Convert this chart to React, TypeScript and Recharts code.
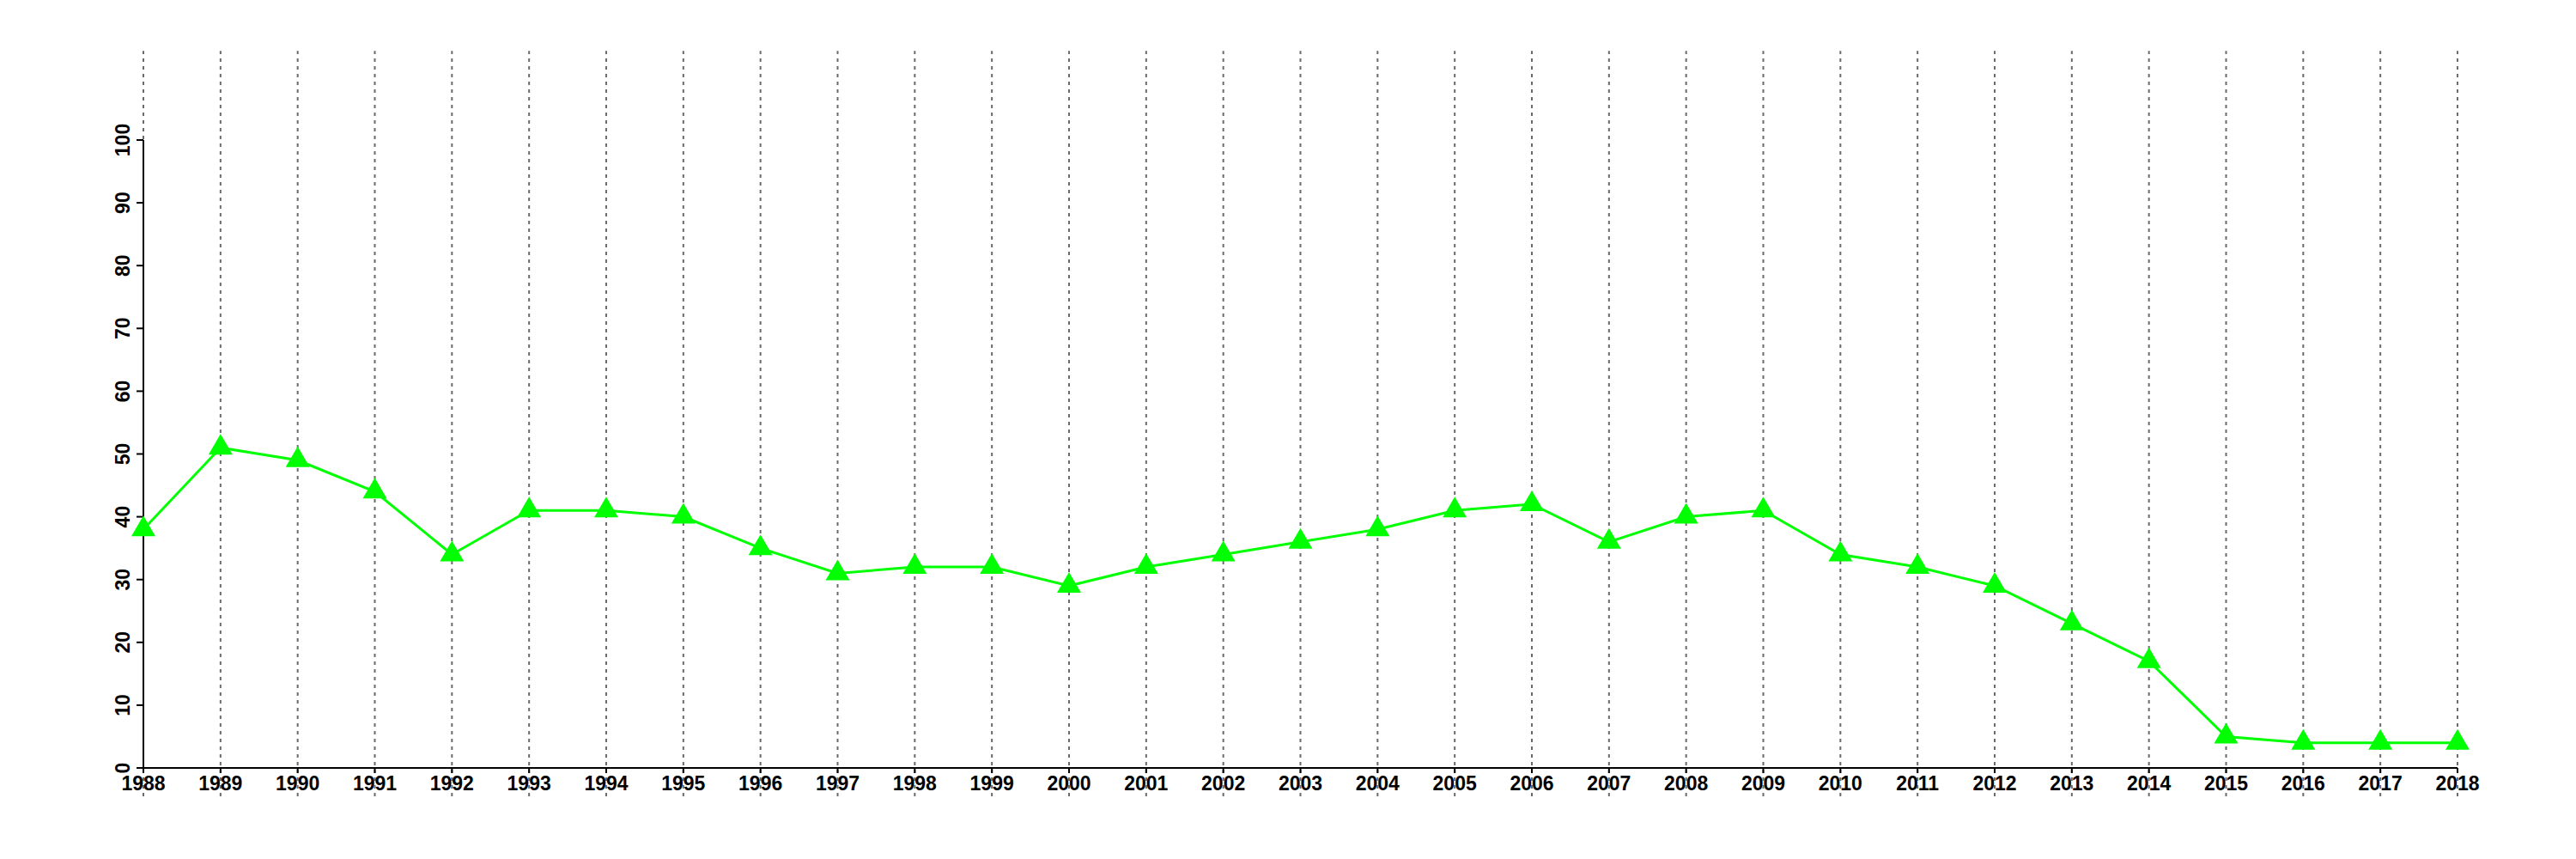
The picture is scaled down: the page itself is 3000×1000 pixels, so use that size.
import React from 'react';
import { LineChart, Line, XAxis, YAxis, ReferenceLine } from 'recharts';

const years = [
  1988, 1989, 1990, 1991, 1992, 1993, 1994, 1995, 1996, 1997, 1998, 1999, 2000, 2001, 2002, 2003,
  2004, 2005, 2006, 2007, 2008, 2009, 2010, 2011, 2012, 2013, 2014, 2015, 2016, 2017, 2018,
];
const values = [
  38, 51, 49, 44, 34, 41, 41, 40, 35, 31, 32, 32, 29, 32, 34, 36,
  38, 41, 42, 36, 40, 41, 34, 32, 29, 23, 17, 5, 4, 4, 4,
];
const yTicks = [0, 10, 20, 30, 40, 50, 60, 70, 80, 90, 100];

const data = years.map((year, i) => ({ year, value: values[i] }));

const FONT = '"Liberation Sans", Arial, Helvetica, sans-serif';

const TriangleDot = (props: any) => {
  const { cx, cy } = props;
  if (cx == null || cy == null) return null;
  const w = 28;
  const h = 24;
  const pts = `${cx},${cy - (2 * h) / 3} ${cx - w / 2},${cy + h / 3} ${cx + w / 2},${cy + h / 3}`;
  return <polygon points={pts} fill="#00ff00" stroke="none" />;
};

const YTick = (props: any) => {
  const { x, y, payload } = props;
  return (
    <text
      x={x}
      y={y}
      transform={`rotate(-90, ${x}, ${y})`}
      textAnchor="middle"
      fontFamily={FONT}
      fontSize={23}
      fontWeight="bold"
      fill="#000"
    >
      {payload.value}
    </text>
  );
};

const App: React.FC = () => {
  return (
    <div style={{ position: 'absolute', left: 0, top: 0, width: 3000, height: 1000, background: '#fff' }}>
      <LineChart
        width={3000}
        height={1000}
        data={data}
        margin={{ top: 163, right: 138, left: 107, bottom: 76 }}
      >
        <XAxis
          dataKey="year"
          type="number"
          domain={[1988, 2018]}
          ticks={years}
          interval={0}
          allowDecimals={false}
          stroke="#000"
          strokeWidth={2}
          tickSize={6}
          tickMargin={4}
          tick={{ fontFamily: FONT, fontSize: 23, fontWeight: 'bold', fill: '#000' }}
        />
        <YAxis
          type="number"
          domain={[0, 100]}
          ticks={yTicks}
          interval={0}
          width={60}
          stroke="#000"
          strokeWidth={2}
          tickSize={8}
          tickMargin={8}
          tick={<YTick />}
        />
        <Line
          dataKey="value"
          type="linear"
          stroke="#00ff00"
          strokeWidth={3}
          dot={<TriangleDot />}
          activeDot={false}
          isAnimationActive={false}
        />
        {years.map((yr) => (
          <ReferenceLine
            key={yr}
            segment={[{ x: yr, y: -4.5 }, { x: yr, y: 114.2 }]}
            ifOverflow="visible"
            stroke="#6b6b6b"
            strokeWidth={2}
            strokeDasharray="4 5"
          />
        ))}
      </LineChart>
    </div>
  );
};

export default App;
